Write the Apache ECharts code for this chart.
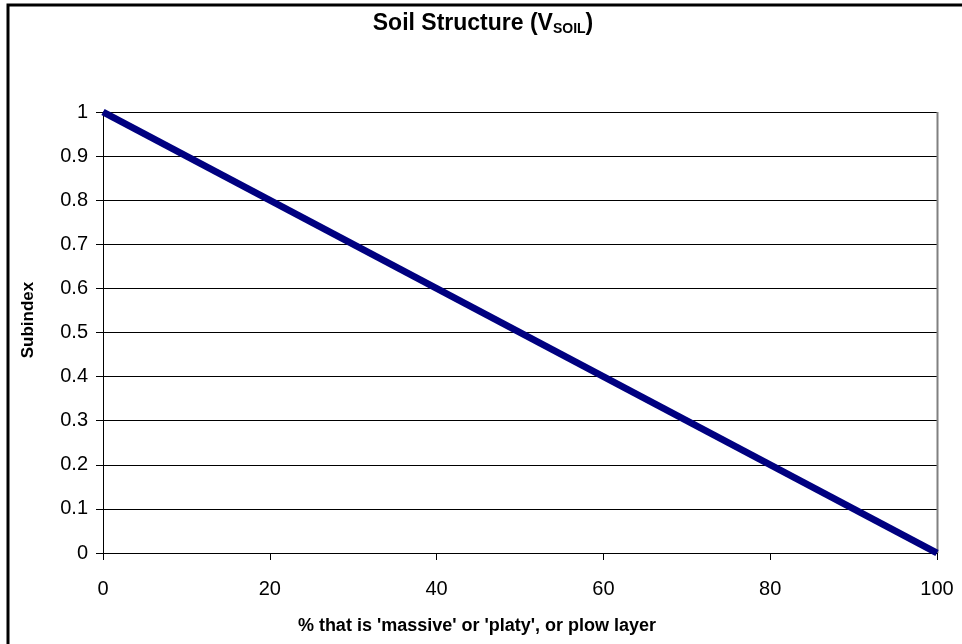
<!DOCTYPE html>
<html>
<head>
<meta charset="utf-8">
<script src="https://cdn.jsdelivr.net/npm/echarts@6/dist/echarts.min.js"></script>
<style>
  html, body { margin: 0; padding: 0; background: #fff; }
  #chart { width: 962px; height: 644px; }
</style>
</head>
<body>
<div id="chart"></div>
<script>
// percent massive/platy (x) against subindex (y)
var xValues = [0, 100];
var subindex = [1, 0];
var xTicks = [0, 20, 40, 60, 80, 100];
var yTicks = [0, 0.1, 0.2, 0.3, 0.4, 0.5, 0.6, 0.7, 0.8, 0.9, 1];

var points = xValues.map(function (x, i) { return [x, subindex[i]]; });

var myChart = echarts.init(document.getElementById('chart'));

var option = {
    backgroundColor: '#ffffff',
    animation: false,
    textStyle: { fontFamily: 'Liberation Sans, Arial, sans-serif' },
    title: {
        text: 'Soil Structure (V{sub|SOIL})',
        left: 478,
        top: 7,
        textAlign: 'center',
        textStyle: {
            fontSize: 23,
            fontWeight: 'bold',
            color: '#000',
            rich: {
                sub: { fontSize: 14, fontWeight: 'bold', color: '#000', padding: [10, 0, 0, 0] }
            }
        }
    },
    grid: { left: 103, right: 25, top: 112, bottom: 91, containLabel: false, outerBoundsMode: 'none' },
    xAxis: {
        type: 'value',
        min: 0,
        max: 100,
        interval: 20,
        axisLine: { onZero: false, lineStyle: { color: '#000', width: 1 } },
        axisTick: { show: true, length: 7, inside: false, lineStyle: { color: '#000' } },
        axisLabel: {
            color: '#000', fontSize: 20, margin: 26,
            formatter: function (v) { return xTicks.indexOf(v) >= 0 ? String(v) : ''; }
        },
        splitLine: { show: false }
    },
    yAxis: {
        type: 'value',
        min: 0,
        max: 1,
        interval: 0.1,
        axisLine: { show: true, lineStyle: { color: '#000', width: 1 } },
        axisTick: { show: true, length: 7, lineStyle: { color: '#000' } },
        axisLabel: {
            color: '#000', fontSize: 20, margin: 15,
            formatter: function (v) {
                var r = Math.round(v * 10) / 10;
                return yTicks.indexOf(r) >= 0 ? String(r) : '';
            }
        },
        splitLine: { show: true, lineStyle: { color: '#000', width: 1 } }
    },
    graphic: [
        {
            type: 'text',
            x: 477,
            y: 626,
            style: {
                text: "% that is 'massive' or 'platy', or plow layer",
                font: 'bold 18px "Liberation Sans", Arial, sans-serif',
                fill: '#000',
                align: 'center',
                verticalAlign: 'middle'
            }
        },
        {
            type: 'text',
            x: 28,
            y: 320,
            rotation: Math.PI / 2,
            style: {
                text: 'Subindex',
                font: 'bold 17px "Liberation Sans", Arial, sans-serif',
                fill: '#000',
                align: 'center',
                verticalAlign: 'middle'
            }
        },
        {
            type: 'line',
            shape: { x1: 937.5, y1: 112, x2: 937.5, y2: 553 },
            style: { stroke: '#808080', lineWidth: 2 },
            z: 5
        },
        {
            type: 'polyline',
            shape: { points: [[8, 644], [8, 5], [962, 5]] },
            style: { stroke: '#000', lineWidth: 3, fill: null }
        }
    ],
    series: [
        {
            type: 'line',
            data: points,
            symbol: 'none',
            lineStyle: { color: '#000080', width: 7 },
            z: 10
        }
    ]
};

myChart.setOption(option);
</script>
</body>
</html>
